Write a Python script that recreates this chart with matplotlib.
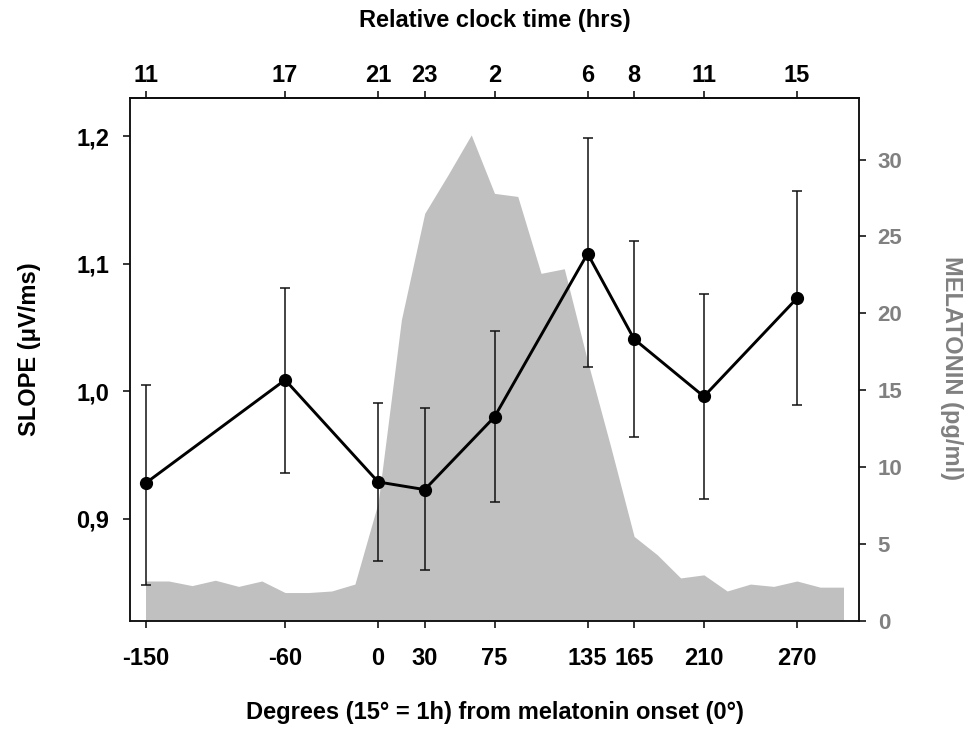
import matplotlib
matplotlib.use('Agg')
import matplotlib.pyplot as plt
import numpy as np

plt.rcParams['font.family'] = ['Liberation Sans', 'DejaVu Sans']
plt.rcParams['font.weight'] = 'bold'

# Slope data (degrees from melatonin onset)
deg = [-150, -60, 0, 30, 75, 135, 165, 210, 270]
slope = [0.928, 1.009, 0.929, 0.923, 0.980, 1.108, 1.041, 0.996, 1.073]
slope_hi = [1.005, 1.081, 0.991, 0.987, 1.047, 1.199, 1.118, 1.076, 1.157]
slope_lo = [0.848, 0.936, 0.867, 0.860, 0.913, 1.019, 0.964, 0.916, 0.989]
clock_labels = ['11', '17', '21', '23', '2', '6', '8', '11', '15']
slope_ticks = [0.9, 1.0, 1.1, 1.2]
slope_tick_labels = ['0,9', '1,0', '1,1', '1,2']
mel_ticks = [0, 5, 10, 15, 20, 25, 30]

# Melatonin profile
mel_deg = list(range(-150, 301, 15))
mel = [2.6, 2.6, 2.3, 2.65, 2.25, 2.6, 1.85, 1.85, 1.95, 2.4,
       7.7, 19.6, 26.5, 29.0, 31.6, 27.8, 27.6, 22.6, 22.9, 16.9,
       11.3, 5.5, 4.3, 2.8, 3.0, 1.95, 2.4, 2.25, 2.6, 2.2, 2.2]

W, H = 979, 730
fig = plt.figure(figsize=(W / 100, H / 100), dpi=100)
L, R, T, B = 130, 859, 98, 621
ax = fig.add_axes([L / W, 1 - B / H, (R - L) / W, (B - T) / H])
ax2 = ax.twinx()

ax2.fill_between(mel_deg, mel, 0, color='#c0c0c0', lw=0)
ax2.set_ylim(0, 34)
ax2.set_yticks(mel_ticks)
ax2.tick_params(axis='y', length=5, width=1.1, pad=8.5, labelsize=16,
                labelcolor='#808080', color='black')

ax.set_zorder(ax2.get_zorder() + 1)
ax.patch.set_visible(False)

s = np.array(slope)
err = [s - np.array(slope_lo), np.array(slope_hi) - s]
ax.errorbar(deg, slope, yerr=err, fmt='none', ecolor='#111111',
            elinewidth=1.1, capsize=3.3, capthick=1.1, zorder=2)
ax.plot(deg, slope, '-o', color='black', lw=2.1, ms=8.5, zorder=3)

ax.set_xlim(-160, 310)
ax.set_ylim(0.82, 1.23)
ax.set_xticks(deg)
ax.set_xticklabels([str(d) for d in deg])
ax.set_yticks(slope_ticks)
ax.set_yticklabels(slope_tick_labels)
ax.tick_params(axis='x', length=5, width=1.1, pad=14, labelsize=17)
ax.tick_params(axis='y', length=5, width=1.1, pad=10, labelsize=17)

for a in (ax, ax2):
    for sp in a.spines.values():
        sp.set_linewidth(1.1)
        sp.set_color('#111111')

sec = ax.secondary_xaxis('top')
sec.set_xticks(deg)
sec.set_xticklabels(clock_labels)
sec.tick_params(axis='x', length=5, width=1.1, pad=3, labelsize=17)
sec.spines['top'].set_linewidth(1.1)

cx = (L + R) / 2 / W
fig.text(cx, 1 - 20 / H, 'Relative clock time (hrs)', ha='center', va='center',
         fontsize=17, fontweight='bold')
fig.text(cx, 1 - 713 / H, 'Degrees (15\u00b0 = 1h) from melatonin onset (0\u00b0)',
         ha='center', va='center', fontsize=17, fontweight='bold')
fig.text(30 / W, 1 - 349 / H, 'SLOPE (\u03bcV/ms)', ha='center', va='center',
         rotation=90, fontsize=17, fontweight='bold')
fig.text(952 / W, 1 - 368 / H, 'MELATONIN (pg/ml)', ha='center', va='center',
         rotation=270, fontsize=17, fontweight='bold', color='#808080')

fig.savefig('out.png', dpi=100)
